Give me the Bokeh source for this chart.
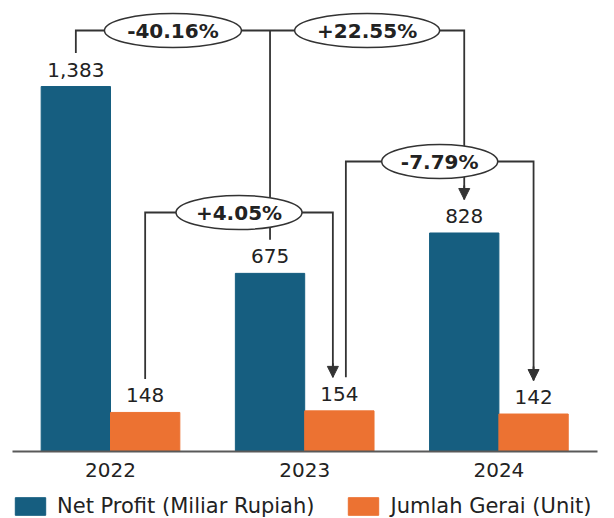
from bokeh.plotting import figure
from bokeh.models import Range1d, FixedTicker, Legend, LegendItem, Arrow, NormalHead, Grid
from bokeh.core.properties import value
from bokeh.embed import file_html
from bokeh.resources import INLINE

# ---------------- data ----------------
years = ["2022", "2023", "2024"]
net_profit = [1383, 675, 828]
jumlah_gerai = [148, 154, 142]
series_names = ["Net Profit (Miliar Rupiah)", "Jumlah Gerai (Unit)"]
profit_changes = ["-40.16%", "+22.55%"]
gerai_changes = ["+4.05%", "-7.79%"]

# ---------------- style / layout ----------------
BLUE = "#165e80"
ORANGE = "#ec7232"
LINE = "#333333"
TEXT = "#222222"
FONT = "DejaVu Sans"

W, H = 614, 518
BASE_PX = 451            # screen y of the value-0 baseline
AX_L, AX_R = 12, 597     # screen x extent of the axis line
PX_PER_X = 194.2         # screen px per category step
PX_PER_Y = 0.2639        # screen px per value unit
BAR_W = 0.357

ux = 1 / PX_PER_X
uy = 1 / PX_PER_Y
GROUP0_PX = 110          # screen x of first category centre
X_START = -GROUP0_PX * ux
X_END = X_START + W * ux
Y_END = BASE_PX * uy
Y_START = -(H - BASE_PX) * uy

p = figure(width=W, height=H, output_backend="svg", toolbar_location=None,
           x_range=Range1d(X_START, X_END), y_range=Range1d(Y_START, Y_END),
           y_axis_location=None,
           min_border_left=0, min_border_right=0,
           min_border_top=0, min_border_bottom=0)
p.center = [r for r in p.center if not isinstance(r, Grid)]
p.outline_line_color = None
p.background_fill_color = "white"
p.border_fill_color = "white"

idx = list(range(len(years)))
blue_x = [i - BAR_W / 2 for i in idx]
orange_x = [i + BAR_W / 2 for i in idx]

rb = p.vbar(x=blue_x, top=net_profit, width=BAR_W, fill_color=BLUE, line_color=BLUE)
ro = p.vbar(x=orange_x, top=jumlah_gerai, width=BAR_W, fill_color=ORANGE, line_color=ORANGE)

# value labels
p.text(x=blue_x, y=net_profit, text=[f"{v:,}" for v in net_profit],
       text_align="center", text_baseline="middle", y_offset=-17,
       text_font=value(FONT), text_font_size="20px", text_color=TEXT)
p.text(x=orange_x, y=jumlah_gerai, text=[f"{v:,}" for v in jumlah_gerai],
       text_align="center", text_baseline="middle", y_offset=-17,
       text_font=value(FONT), text_font_size="20px", text_color=TEXT)

# connector geometry (layout)
GAP = 33.5 * uy
TOP = (BASE_PX - 30) * uy
L1 = (BASE_PX - 212) * uy
L2 = (BASE_PX - 161) * uy
OFF = 6.5 * ux

a1 = orange_x[1] - OFF
a2 = orange_x[1] + OFF

xs = [
    [blue_x[0], blue_x[0], blue_x[2], blue_x[2]],
    [blue_x[1], blue_x[1]],
    [orange_x[0], orange_x[0], a1, a1],
    [a2, a2, orange_x[2], orange_x[2]],
]
ys = [
    [net_profit[0] + GAP, TOP, TOP, net_profit[2] + GAP],
    [TOP, net_profit[1] + GAP],
    [jumlah_gerai[0] + GAP, L1, L1, jumlah_gerai[1] + GAP],
    [jumlah_gerai[1] + GAP, L2, L2, jumlah_gerai[2] + GAP],
]
p.multi_line(xs=xs, ys=ys, line_color=LINE, line_width=1.8, line_join="miter")

for x_end, y_end in [(blue_x[2], net_profit[2] + GAP),
                     (a1, jumlah_gerai[1] + GAP),
                     (orange_x[2], jumlah_gerai[2] + GAP)]:
    p.add_layout(Arrow(end=NormalHead(size=11, fill_color=LINE, line_color=LINE),
                       x_start=x_end, y_start=y_end + 14 * uy,
                       x_end=x_end, y_end=y_end,
                       line_color=LINE, line_width=1.8))

# change ellipses
ell_x = [(blue_x[0] + blue_x[1]) / 2, (blue_x[1] + blue_x[2]) / 2,
         (orange_x[0] + a1) / 2, (a2 + orange_x[2]) / 2]
ell_y = [TOP, TOP, L1, L2]
ell_w = [137, 145, 126, 116]
ell_text = profit_changes + gerai_changes
p.ellipse(x=ell_x, y=ell_y, width=ell_w, height=[34] * 4,
          width_units="screen", height_units="screen",
          fill_color="white", line_color=LINE, line_width=1.5)
p.text(x=ell_x, y=ell_y, text=ell_text, text_align="center", text_baseline="middle",
       text_font=value(FONT), text_font_size="20px", text_font_style="bold",
       text_color=TEXT)

# axis drawn at value 0 inside the frame
ax = p.xaxis[0]
ax.fixed_location = 0
ax.bounds = (X_START + AX_L * ux, X_START + AX_R * ux)
ax.ticker = FixedTicker(ticks=idx)
ax.major_label_overrides = {i: y for i, y in zip(idx, years)}
ax.axis_line_color = "#595959"
ax.axis_line_width = 2
ax.major_tick_line_color = None
ax.minor_tick_line_color = None
ax.major_label_text_font = FONT
ax.major_label_text_font_size = "20px"
ax.major_label_text_color = TEXT
ax.major_label_standoff = 5

# legend at the bottom of the canvas
legend = Legend(items=[LegendItem(label=series_names[0], renderers=[rb]),
                       LegendItem(label=series_names[1], renderers=[ro])],
                orientation="horizontal", location=(11, 0),
                glyph_width=38, glyph_height=22, label_height=22,
                label_text_font=FONT, label_text_font_size="21px",
                label_text_color=TEXT, label_standoff=8, spacing=30,
                padding=0, margin=0, border_line_color=None,
                background_fill_alpha=0)
p.add_layout(legend)

open("out.html", "w").write(file_html(p, INLINE))
